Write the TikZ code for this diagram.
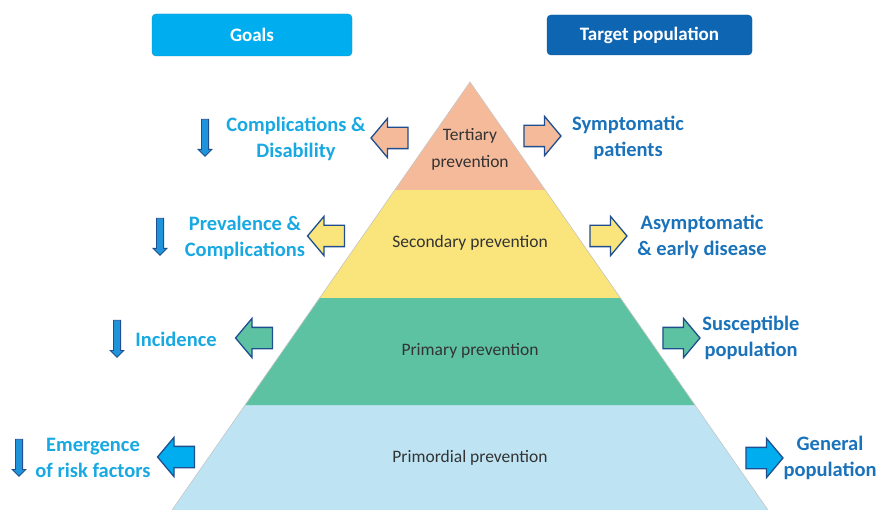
\documentclass[tikz,border=0pt]{standalone}
\usepackage{fontspec}
\setmainfont{Carlito}
\usetikzlibrary{shapes.arrows}
\definecolor{cTer}{HTML}{F5BA9A}
\definecolor{cSec}{HTML}{FAE57C}
\definecolor{cPri}{HTML}{5DC2A2}
\definecolor{cPrd}{HTML}{BEE4F4}
\definecolor{cCyan}{HTML}{00AEEF}
\definecolor{cGoal}{HTML}{18A9E2}
\definecolor{cTarget}{HTML}{1A72BA}
\definecolor{cHead}{HTML}{0E66B2}
\definecolor{cEdge}{HTML}{1F4F8F}
\definecolor{cDown}{HTML}{2094DA}
\definecolor{cLabel}{HTML}{333333}
\tikzset{
  layer/.style={draw=gray!45, line width=0.6pt},
  laytext/.style={text=cLabel, font=\fontsize{17.5}{27}\selectfont, align=center},
  goal/.style={text=cGoal, font=\bfseries\fontsize{20.5}{26}\selectfont, align=center},
  target/.style={text=cTarget, font=\bfseries\fontsize{20.5}{26}\selectfont, align=center},
  header/.style={rounded corners=4pt, minimum width=200pt, minimum height=42pt, text=white,
    font=\bfseries\fontsize{19}{22}\selectfont},
  blockarrow/.style={single arrow, draw=cEdge, line width=1.3pt, inner sep=10pt,
    minimum height=37pt, single arrow head extend=9pt,
    single arrow tip angle=100},
  larr/.style={blockarrow, shape border rotate=180},
  rarr/.style={blockarrow},
  downarr/.style={single arrow, draw=cEdge, fill=cDown, line width=0.8pt, inner sep=3.2pt,
    minimum height=37pt, single arrow head extend=3.3pt,
    single arrow tip angle=90, shape border rotate=270},
}
\begin{document}
\begin{tikzpicture}[x=1pt,y=-1pt]
\useasboundingbox (0,0) rectangle (880,510);
% pyramid layers
\fill[cPrd] (245,405) -- (695,405) -- (768,510) -- (172,510) -- cycle;
\fill[cPri] (319.4,298) -- (620.6,298) -- (695,405) -- (245,405) -- cycle;
\fill[cSec] (394.7,190) -- (545.3,190) -- (620.6,298) -- (319.4,298) -- cycle;
\fill[cTer] (470,82) -- (545.3,190) -- (394.7,190) -- cycle;
\draw[layer] (172,510) -- (470,82) -- (768,510);
% pyramid labels
\node[laytext] (ter) at (470,149) {Tertiary\\prevention};
\node[laytext] (sec) at (470,243) {Secondary prevention};
\node[laytext] (pri) at (470,351) {Primary prevention};
\node[laytext] (prd) at (470,458) {Primordial prevention};
% headers
\node[header, fill=cCyan, draw=cCyan!80!black] (goals) at (252,35) {Goals};
\node[header, fill=cHead, draw=cHead!85!black, minimum width=205pt, minimum height=40pt] (tpop) at (649.5,35) {Target population};
% left block arrows
\node[larr, fill=cTer] (la1) at (394,138) {};
\node[larr, fill=cSec] (la2) at (330.5,236) {};
\node[larr, fill=cPri] (la3) at (258.5,338) {};
\node[larr, fill=cCyan] (la4) at (180.5,457) {};
% right block arrows
\node[rarr, fill=cTer] (ra1) at (538,136) {};
\node[rarr, fill=cSec] (ra2) at (604,236) {};
\node[rarr, fill=cPri] (ra3) at (677,338) {};
\node[rarr, fill=cCyan] (ra4) at (760,458) {};
% goal texts
\node[goal] (g1) at (296,139) {Complications \&\\Disability};
\node[goal] (g2) at (245,238) {Prevalence \&\\Complications};
\node[goal] (g3) at (176,339) {Incidence};
\node[goal] (g4) at (93,458) {Emergence\\of risk factors};
% down arrows
\node[downarr] (d1) at (205,136) {};
\node[downarr] (d2) at (160,235) {};
\node[downarr] (d3) at (117,337) {};
\node[downarr] (d4) at (19,456) {};
% target texts
\node[target] (t1) at (628,138) {Symptomatic\\patients};
\node[target] (t2) at (702,237) {Asymptomatic\\\& early disease};
\node[target] (t3) at (751,338) {Susceptible\\population};
\node[target] (t4) at (830,458) {General\\population};
\end{tikzpicture}
\end{document}
